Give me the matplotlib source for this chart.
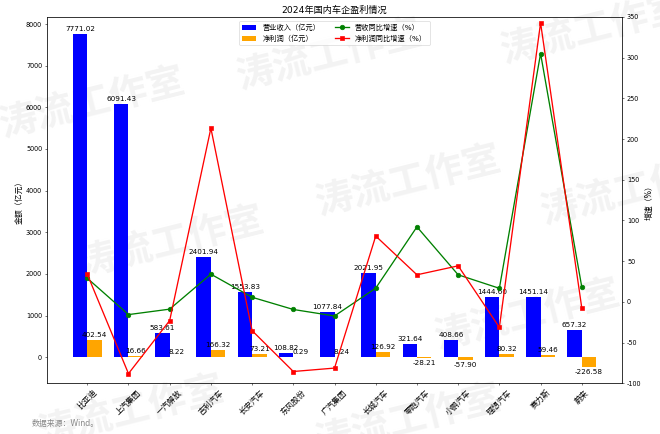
import numpy as np
import matplotlib
matplotlib.use('Agg')
import matplotlib.pyplot as plt

plt.rcParams['font.family'] = ['DejaVu Sans', 'Noto Sans CJK SC']
plt.rcParams['axes.unicode_minus'] = False

companies = ['比亚迪', '上汽集团', '一汽解放', '吉利汽车', '长安汽车', '东风股份', '广汽集团',
             '长城汽车', '零跑汽车', '小鹏汽车', '理想汽车', '赛力斯', '蔚来']
revenue = [7771.02, 6091.43, 583.61, 2401.94, 1553.83, 108.82, 1077.84,
           2021.95, 321.64, 408.66, 1444.60, 1451.14, 657.32]
net_profit = [402.54, 16.66, 8.22, 166.32, 73.21, 0.29, 8.24,
              126.92, -28.21, -57.90, 80.32, 59.46, -226.58]
revenue_growth = [29.0, -15.7, -9.0, 34.0, 5.6, -9.4, -17.4,
                  16.8, 92.1, 33.2, 16.6, 305.0, 18.2]
profit_growth = [34.0, -88.2, -23.0, 213.3, -35.4, -85.6, -81.4,
                 80.8, 33.2, 44.2, -31.4, 342.7, -7.5]

DPI = 660 / 14
fig, ax1 = plt.subplots(figsize=(14, 434 / DPI), dpi=DPI)
fig.subplots_adjust(left=0.0707, right=0.943, bottom=0.117, top=0.961)
ax1.patch.set_alpha(0)

# watermark
marks = [(0.14, 0.76), (0.50, 0.87), (0.90, 0.93), (0.26, 0.44), (0.62, 0.58),
         (0.96, 0.56), (0.80, 0.27), (0.20, 0.05), (0.62, 0.03)]
for wx, wy in marks:
    fig.text(wx, wy, '涛流工作室', fontsize=58, color='#f3f3f3', rotation=14,
             ha='center', va='center', fontweight='bold', zorder=-5)

x = np.arange(len(companies))
w = 0.35
b1 = ax1.bar(x - w / 2, revenue, w, color='blue', label='营业收入（亿元）')
b2 = ax1.bar(x + w / 2, net_profit, w, color='orange', label='净利润（亿元）')

for bars, vals in [(b1, revenue), (b2, net_profit)]:
    for rect, v in zip(bars, vals):
        ax1.annotate(f'{v:.2f}', (rect.get_x() + rect.get_width() / 2, v),
                     xytext=(0, 3 if v >= 0 else -3), textcoords='offset points',
                     ha='center', va='bottom' if v >= 0 else 'top', fontsize=11)

ax1.set_ylabel('金额（亿元）', fontsize=12)
ax1.set_xticks(x)
ax1.set_xticklabels(companies, rotation=45, fontsize=12)
ax1.set_title('2024年国内车企盈利情况', fontsize=14)

ax2 = ax1.twinx()
l1, = ax2.plot(x, revenue_growth, color='green', marker='o', linewidth=2,
               markersize=7, label='营收同比增速（%）')
l2, = ax2.plot(x, profit_growth, color='red', marker='s', linewidth=2,
               markersize=7, label='净利润同比增速（%）')
ax2.set_ylim(-100, 350)
ax2.set_ylabel('增速（%）', fontsize=12)

handles = [b1, b2, l1, l2]
ax2.legend(handles, [h.get_label() for h in handles], loc='upper center', ncol=2,
           fontsize=11)

fig.text(0.048, 0.025, '数据来源：Wind。', fontsize=12, color='#888888', va='center')

fig.savefig('out.png', dpi=DPI)
plt.close()
